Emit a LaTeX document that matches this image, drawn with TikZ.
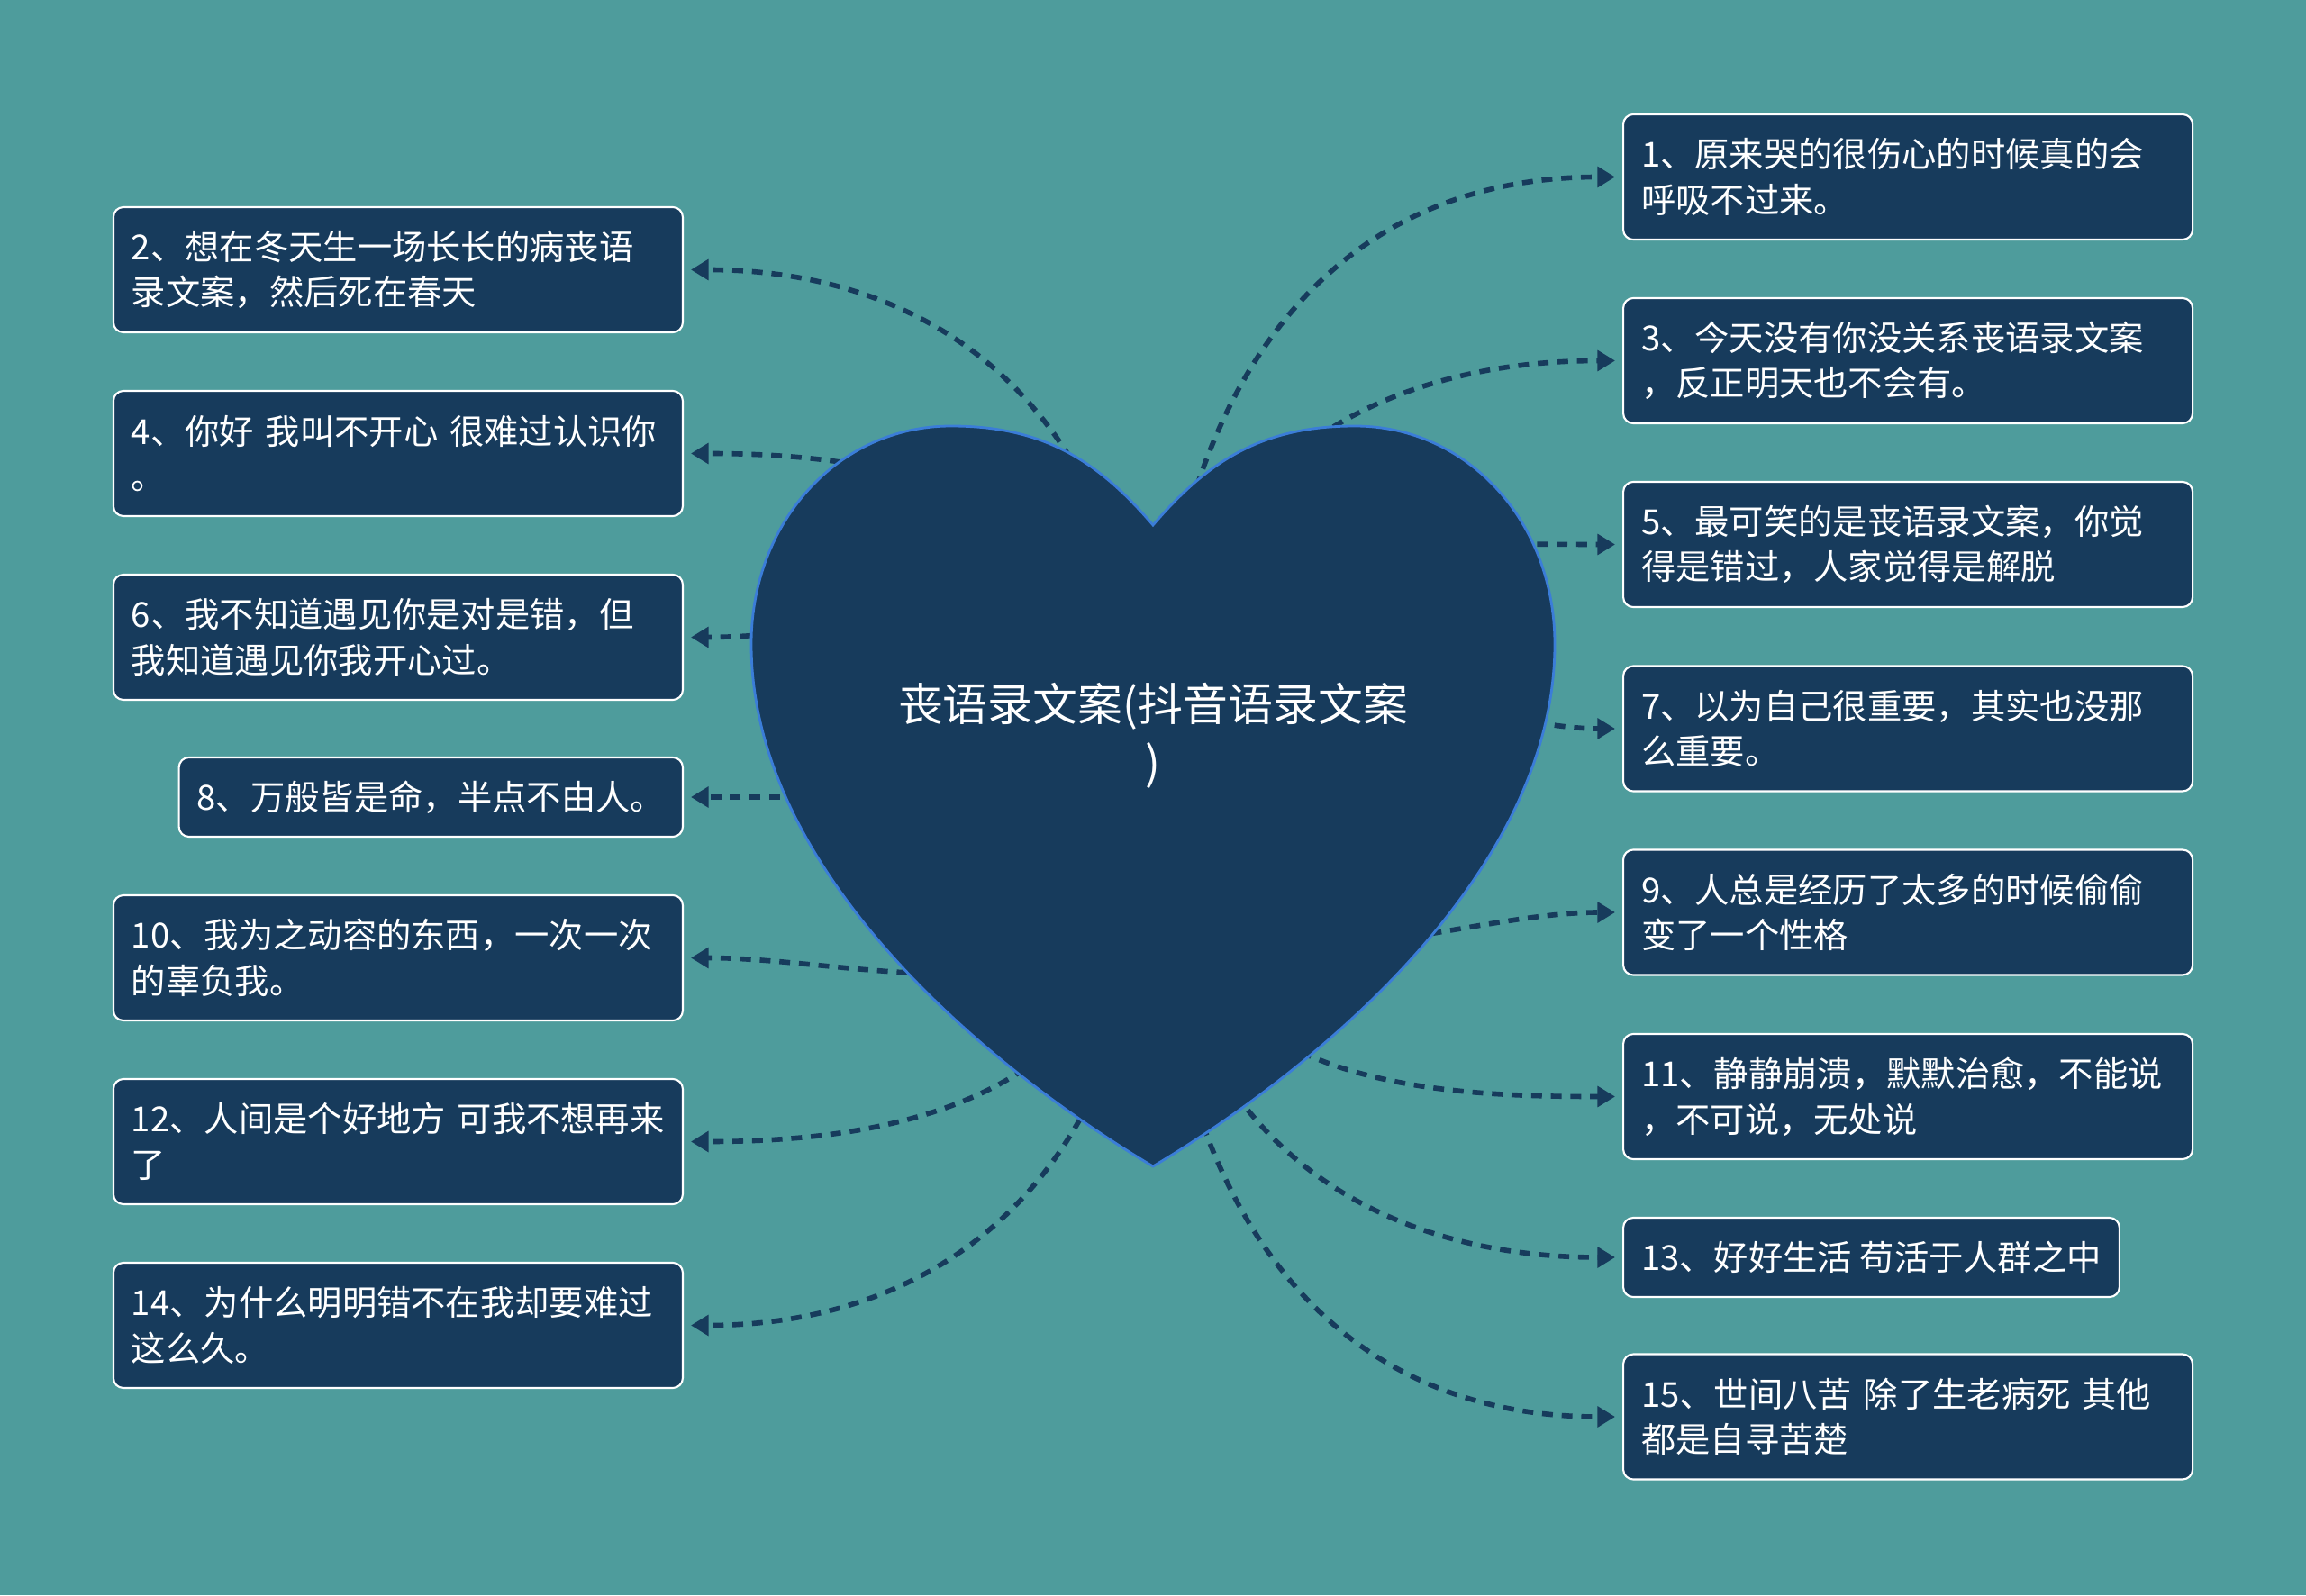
\documentclass[tikz,border=0pt]{standalone}
\usepackage{fontspec}
\setmainfont{Noto Sans CJK SC}
\usepackage{tikz}
\usetikzlibrary{arrows.meta}

\definecolor{pagebg}{HTML}{4E9C9C}
\definecolor{navy}{HTML}{173B5C}
\definecolor{rim}{HTML}{3B7DD8}

\begin{document}
\begin{tikzpicture}[
  every node/.style={font=\fontsize{10.9pt}{14.4pt}\selectfont, text=white},
  leaf/.style={rectangle, rounded corners=1.1mm, draw=white, line width=0.6pt,
               fill=navy, align=left, text width=5.92cm, inner xsep=2mm,
               minimum height=13.9mm},
  single/.style={rectangle, rounded corners=1.1mm, draw=white, line width=0.6pt,
                 fill=navy, inner xsep=2mm, minimum height=8.8mm},
  link/.style={-{Triangle[length=5.6pt, width=6.4pt]}, navy, line width=1.6pt,
               dash pattern=on 3.4pt off 2.8pt, shorten >=0.8mm,
               out looseness=1.3},
  heartfont/.style={font=\fontsize{14.2pt}{18.5pt}\selectfont}
]
\fill[pagebg] (0,0) rectangle (25.60,17.71);

% right column
\node[leaf, anchor=west] (n1) at (18.01,15.745) {1、原来哭的很伤心的时候真的会\\呼吸不过来。};
\node[leaf, anchor=west] (n3) at (18.01,13.705) {3、今天没有你没关系丧语录文案\\，反正明天也不会有。};
\node[leaf, anchor=west] (n5) at (18.01,11.665) {5、最可笑的是丧语录文案，你觉\\得是错过，人家觉得是解脱};
\node[leaf, anchor=west] (n7) at (18.01,9.62) {7、以为自己很重要，其实也没那\\么重要。};
\node[leaf, anchor=west] (n9) at (18.01,7.58) {9、人总是经历了太多的时候偷偷\\变了一个性格};
\node[leaf, anchor=west] (n11) at (18.01,5.535) {11、静静崩溃，默默治愈，不能说\\，不可说，无处说};
\node[single, anchor=west, minimum width=5.50cm] (n13) at (18.01,3.75) {13、好好生活 苟活于人群之中};
\node[leaf, anchor=west] (n15) at (18.01,1.98) {15、世间八苦 除了生老病死 其他\\都是自寻苦楚};

% left column
\node[leaf, anchor=east] (n2) at (7.59,14.715) {2、想在冬天生一场长长的病丧语\\录文案，然后死在春天};
\node[leaf, anchor=east] (n4) at (7.59,12.675) {4、你好 我叫不开心 很难过认识你\\。};
\node[leaf, anchor=east] (n6) at (7.59,10.635) {6、我不知道遇见你是对是错，但\\我知道遇见你我开心过。};
\node[single, anchor=east, minimum width=5.57cm] (n8) at (7.59,8.86) {8、万般皆是命，半点不由人。};
\node[leaf, anchor=east] (n10) at (7.59,7.075) {10、我为之动容的东西，一次一次\\的辜负我。};
\node[leaf, anchor=east] (n12) at (7.59,5.035) {12、人间是个好地方 可我不想再来\\了};
\node[leaf, anchor=east] (n14) at (7.59,2.995) {14、为什么明明错不在我却要难过\\这么久。};

% links start behind the heart
\coordinate (hub) at (12.80,8.86);
\foreach \n in {1,3,5,7}
  \draw[link] (hub) to[out=90, in=180] (n\n);
\foreach \n in {9,11,13,15}
  \draw[link] (hub) to[out=-90, in=180] (n\n);
\foreach \n in {2,4,6}
  \draw[link] (hub) to[out=90, in=0] (n\n);
\foreach \n in {10,12,14}
  \draw[link] (hub) to[out=-90, in=0] (n\n);
\draw[link] (hub) -- (n8);

% heart
\filldraw[fill=navy, draw=rim, line width=0.8pt]
  (12.80,11.88) .. controls (12.20,12.58) and (11.60,12.98) .. (10.56,12.98)
  .. controls (9.30,12.98) and (8.34,11.91) .. (8.34,10.56)
  .. controls (8.34,7.91) and (11.20,5.71) .. (12.80,4.76)
  .. controls (14.40,5.71) and (17.26,7.91) .. (17.26,10.56)
  .. controls (17.26,11.91) and (16.30,12.98) .. (15.04,12.98)
  .. controls (14.00,12.98) and (13.40,12.58) .. cycle;
\node[heartfont, align=center] (root) at (12.80,9.545) {丧语录文案(抖音语录文案\\)};
\end{tikzpicture}
\end{document}
